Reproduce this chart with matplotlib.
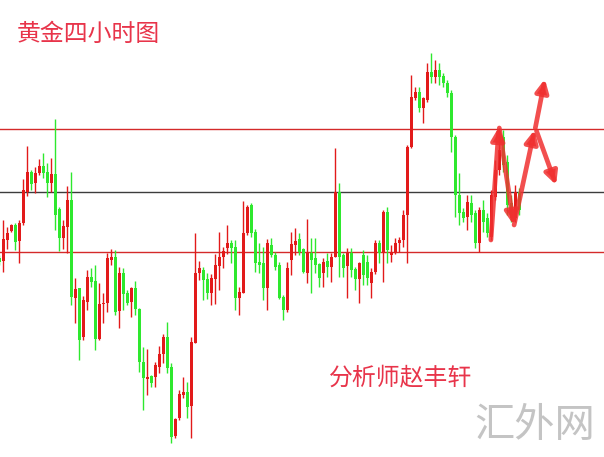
import matplotlib.pyplot as plt
import numpy as np

plt.rcParams['font.family'] = ['Noto Sans CJK SC', 'DejaVu Sans']

# 4h gold candles (open, high, low, close), price units are arbitrary
opens = [199, 196, 217, 226, 232, 216, 234, 265, 285, 274, 284, 291, 285, 274, 283, 248, 219, 230, 257, 159,
         169, 120, 155, 180, 176, 118, 153, 154, 197, 200, 146, 184, 164, 155, 169, 148, 95, 78, 81, 80,
         90, 103, 120, 90, 21, 39, 62, 65, 51, 114, 184, 187, 178, 164, 178, 191, 200, 209, 214, 210,
         159, 164, 224, 252, 225, 195, 194, 169, 212, 202, 192, 160, 147, 197, 212, 218, 208, 184, 204, 199,
         193, 184, 196, 190, 200, 265, 202, 191, 204, 188, 178, 202, 195, 174, 185, 214, 204, 245, 202, 205,
         214, 217, 242, 310, 359, 365, 349, 357, 385, 380, 387, 381, 374, 364, 320, 262, 245, 240, 254, 244,
         214, 247, 239, 220, 260, 287, 320, 295, 254, 239, 265]
highs = [202, 237, 230, 233, 234, 237, 278, 311, 287, 290, 298, 304, 294, 299, 338, 250, 237, 271, 285, 179,
         169, 161, 187, 189, 192, 174, 164, 204, 208, 207, 190, 189, 167, 170, 176, 149, 110, 108, 82, 95,
         111, 123, 135, 94, 39, 67, 80, 75, 120, 224, 196, 190, 184, 183, 203, 225, 210, 232, 217, 217,
         170, 256, 252, 254, 228, 214, 210, 218, 219, 205, 195, 162, 195, 225, 229, 224, 209, 238, 219, 219,
         194, 199, 204, 204, 309, 274, 204, 209, 209, 190, 195, 207, 202, 189, 217, 217, 247, 250, 212, 219,
         220, 247, 312, 382, 370, 370, 360, 394, 404, 397, 394, 384, 377, 367, 322, 284, 249, 262, 262, 247,
         250, 257, 244, 267, 297, 329, 327, 302, 262, 272, 269]
lows = [192, 185, 208, 225, 207, 194, 232, 261, 267, 264, 282, 279, 260, 265, 227, 206, 208, 204, 152, 134,
        97, 117, 147, 170, 107, 117, 134, 145, 192, 142, 129, 147, 152, 140, 142, 85, 47, 62, 70, 70,
        84, 94, 84, 14, 19, 37, 59, 39, 19, 114, 177, 157, 158, 152, 153, 167, 189, 203, 194, 147,
        142, 164, 222, 220, 185, 184, 157, 147, 200, 187, 158, 137, 145, 182, 202, 202, 184, 174, 164, 184,
        170, 170, 180, 175, 200, 180, 180, 159, 180, 167, 154, 172, 172, 159, 183, 194, 175, 194, 195, 203,
        205, 210, 194, 309, 357, 345, 334, 355, 374, 374, 372, 370, 360, 305, 240, 232, 235, 227, 235, 209,
        205, 225, 220, 217, 257, 282, 285, 242, 235, 235, 242]
closes = [195, 218, 224, 232, 215, 234, 267, 285, 273, 284, 291, 284, 274, 283, 242, 219, 231, 257, 160, 168,
          117, 157, 180, 175, 118, 153, 154, 199, 200, 145, 184, 163, 154, 169, 148, 95, 79, 80, 74, 92,
          103, 120, 89, 20, 38, 63, 65, 50, 115, 184, 189, 177, 164, 179, 192, 200, 206, 214, 209, 159,
          165, 224, 250, 224, 194, 192, 169, 214, 202, 190, 159, 147, 189, 213, 216, 205, 185, 204, 197, 192,
          179, 195, 190, 200, 265, 200, 189, 204, 187, 178, 194, 182, 179, 185, 214, 204, 245, 207, 205, 214,
          217, 242, 310, 360, 365, 349, 359, 385, 380, 387, 380, 374, 364, 320, 262, 244, 239, 255, 242, 214,
          247, 235, 224, 262, 287, 307, 292, 252, 239, 265, 247]

resistance = 328
pivot = 265
support = 205

# forecast arrows drawn by the analyst (bar index, price)
arrow_from = [(122.9, 217), (125.0, 329), (128.7, 232), (134.0, 329), (134.3, 326)]
arrow_to = [(124.9, 330), (128.6, 232), (133.8, 327), (136.4, 378), (139.2, 272)]

up_color = '#e21a1a'
down_color = '#2ee82e'

fig = plt.figure(figsize=(6.04, 4.57), dpi=100)
ax = fig.add_axes([0, 0, 1, 1])

x = np.arange(len(opens))
o = np.array(opens)
h = np.array(highs)
l = np.array(lows)
c = np.array(closes)
colors = [up_color if cc >= oo else down_color for oo, cc in zip(o, c)]

for lvl, col in [(resistance, '#d42a2a'), (pivot, '#3c3c3c'), (support, '#d42a2a')]:
    ax.axhline(lvl, color=col, lw=1.0, zorder=1)

ax.vlines(x, l, h, colors=colors, lw=1.0, zorder=2)
body_lo = np.minimum(o, c)
body_h = np.maximum(np.abs(c - o), 1.2)
ax.bar(x, body_h, bottom=body_lo, width=0.75, color=colors, lw=0, zorder=3)

for (x0, y0), (x1, y1) in zip(arrow_from, arrow_to):
    ax.annotate('', xy=(x1, y1), xytext=(x0, y0),
                arrowprops=dict(arrowstyle='-|>', color='#f03030', lw=3.4,
                                mutation_scale=19, alpha=0.85, shrinkA=0, shrinkB=0),
                zorder=5)

ax.set_xlim(0.175, 151.175)
ax.set_ylim(0, 457)
ax.axis('off')

fig.text(17 / 604, 1 - 34 / 457, '黄金四小时图', color='#e8344a', fontsize=17.2, va='center', ha='left')
fig.text(329 / 604, 1 - 378 / 457, '分析师赵丰轩', color='#e8344a', fontsize=17.2, va='center', ha='left')
fig.text(474 / 604, 1 - 426 / 457, '汇外网', color='#c4c4c4', fontsize=29, va='center', ha='left')

fig.savefig('out.png', dpi=100)
